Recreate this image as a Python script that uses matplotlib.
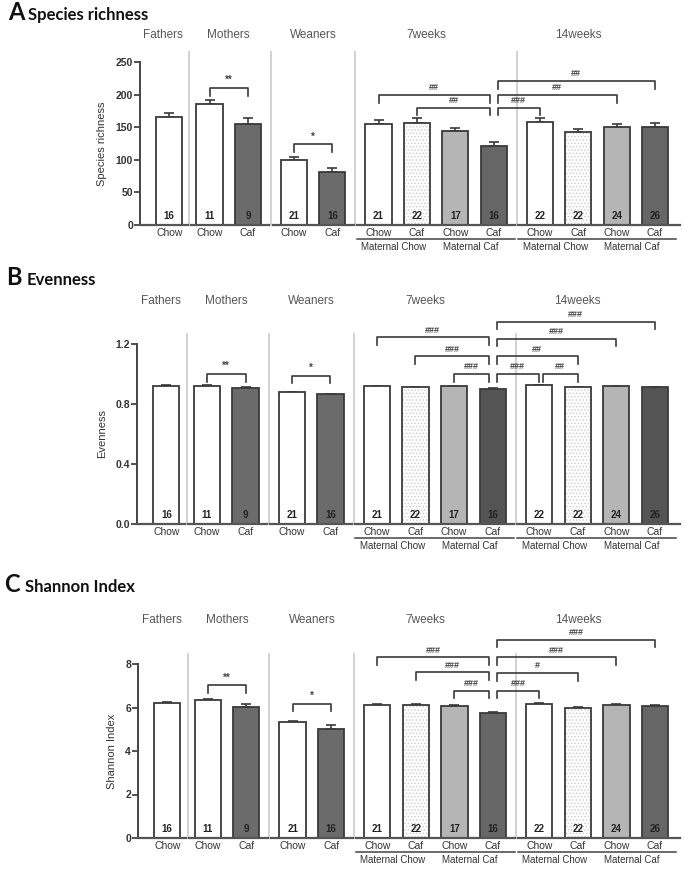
#alpha_diversity.py

import numpy as np
import matplotlib
matplotlib.use('Agg')
import matplotlib.pyplot as plt
from matplotlib import transforms

plt.rcParams['font.family'] = 'Liberation Sans'
plt.rcParams['hatch.linewidth'] = 0.7

# data
groups = ['Fathers', 'Mothers', 'Weaners', '7weeks', '14weeks']
group_sizes = [1, 2, 2, 4, 4]
diets = ['Chow', 'Chow', 'Caf', 'Chow', 'Caf', 'Chow', 'Caf', 'Chow', 'Caf',
         'Chow', 'Caf', 'Chow', 'Caf']
n_animals = [16, 11, 9, 21, 16, 21, 22, 17, 16, 22, 22, 24, 26]
maternal = ['Maternal Chow', 'Maternal Caf', 'Maternal Chow', 'Maternal Caf']

richness = [166, 185, 155, 99, 81, 155, 156, 144, 121, 158, 142, 150, 150]
richness_err = [6, 6, 9, 5, 7, 6, 8, 5, 7, 6, 5, 5, 7]
evenness = [0.922, 0.923, 0.907, 0.877, 0.864, 0.917, 0.913, 0.917, 0.900,
            0.924, 0.911, 0.917, 0.913]
evenness_err = [0.003, 0.003, 0.004, 0.003, 0.004, 0.003, 0.003, 0.003, 0.004,
                0.003, 0.003, 0.003, 0.003]
shannon = [6.21, 6.35, 6.02, 5.33, 5.03, 6.10, 6.10, 6.06, 5.73, 6.16, 5.98, 6.10, 6.06]
shannon_err = [0.05, 0.05, 0.13, 0.07, 0.15, 0.05, 0.06, 0.06, 0.07, 0.06, 0.06, 0.05, 0.05]

# significance brackets (bar i, bar j, height, label)
richness_sig = [(1, 2, 210, '**'), (3, 4, 124, '*'), (5, 8, 199, '##'), (6, 8, 180, '##'),
                (8, 9, 180, '###'), (8, 11, 199, '##'), (8, 12, 221, '##')]
evenness_sig = [(1, 2, 1.0, '**'), (3, 4, 0.99, '*'), (5, 8, 1.244, '###'), (6, 8, 1.117, '###'),
                (7, 8, 1.0, '###'), (8, 12, 1.35, '###'), (8, 11, 1.235, '###'),
                (8, 10, 1.117, '##'), (8, 9, 1.0, '###'), (9, 10, 1.0, '##')]
shannon_sig = [(1, 2, 7.02, '**'), (3, 4, 6.17, '*'), (5, 8, 8.3, '###'), (6, 8, 7.61, '###'),
               (7, 8, 6.77, '###'), (8, 12, 9.12, '###'), (8, 11, 8.3, '###'),
               (8, 10, 7.58, '#'), (8, 9, 6.77, '###')]

# layout
gaps = [0.05, 0.2, 0.2, 0.2]
xpos = []
start = 0.0
for g, size in enumerate(group_sizes):
    if g > 0:
        start += 1 + gaps[g - 1]
    for k in range(size):
        xpos.append(start + k)
    start += size - 1
xpos = np.array(xpos)
bounds = np.cumsum(group_sizes)
seps = [(xpos[b - 1] + xpos[b]) / 2 for b in bounds[:-1]]
XL = (-0.76, 13.3)

fills = ['white', 'white', '#6b6b6b', 'white', '#6b6b6b', 'white', 'white', '#b5b5b5',
         '#666666', 'white', 'white', '#b5b5b5', '#666666']
dotted = [6, 10]
edge = '#3a3a3a'

W, H = 685, 869
fig = plt.figure(figsize=(W / 100, H / 100), dpi=100)


def panel(box, vals, errs, sig, ymax, yticks, ylabels, ylabel, leg, head_px, darker=False):
    left, top, bottom = box
    ax = fig.add_axes([left / W, 1 - bottom / H, (680 - left) / W, (bottom - top) / H])
    ax_h = bottom - top
    cols = list(fills)
    if darker:
        cols[8] = cols[12] = '#545454'
    bars = ax.bar(xpos, vals, width=0.68, color=cols, edgecolor='none', zorder=2)
    for i in dotted:
        bars[i].set_hatch('.....')
        bars[i].set_edgecolor('#d0d0d0')
        bars[i].set_linewidth(0)
    ax.bar(xpos, vals, width=0.68, color='none', edgecolor=edge, linewidth=1.3, zorder=3)
    ax.errorbar(xpos, vals, yerr=[np.zeros(len(vals)), errs], fmt='none', ecolor=edge,
                elinewidth=1.2, capsize=3.5, capthick=1.2, zorder=1)
    for x, n in zip(xpos, n_animals):
        ax.annotate(str(n), (x, 0), xytext=(0, 3), textcoords='offset points', ha='center',
                    va='bottom', fontsize=7, fontweight='bold', color='#222', zorder=4)

    ax.set_xlim(*XL)
    ax.set_ylim(0, ymax)
    ax.set_yticks(yticks)
    ax.set_yticklabels(ylabels, fontsize=7.5, fontweight='bold', color='#333')
    ax.tick_params(axis='y', length=4, width=1.3, color='#444', pad=1)
    ax.set_xticks(xpos)
    ax.set_xticklabels(diets, fontsize=7.5, color='#333')
    ax.tick_params(axis='x', length=0, pad=2)
    for s in ['top', 'right', 'bottom']:
        ax.spines[s].set_visible(False)
    ax.spines['left'].set_linewidth(1.4)
    ax.spines['left'].set_color('#444')
    ax.set_ylabel(ylabel, fontsize=8, color='#333', labelpad=6)

    # broken x axis
    edges = [XL[0]] + seps + [XL[1]]
    for a, b in zip(edges[:-1], edges[1:]):
        ax.plot([a + (0.04 if a != XL[0] else 0), b - (0.04 if b != XL[1] else 0)], [0, 0],
                color='#555', lw=1.6, clip_on=False, zorder=5)
    # group separators
    ext = 1 + 10 / ax_h
    for s in seps:
        ax.plot([s, s], [0, ext], transform=transforms.blended_transform_factory(ax.transData, ax.transAxes),
                color='#cfcfcf', lw=1.3, clip_on=False, zorder=0)
    # group headers
    shifts = [-0.15, 0, 0, -0.25, -0.5]
    k = 0
    for g, size in enumerate(group_sizes):
        xc = xpos[k:k + size].mean() + shifts[g]
        k += size
        ax.annotate(groups[g], (xc, 1), xycoords=('data', 'axes fraction'),
                    xytext=(0, head_px * 0.72), textcoords='offset points',
                    ha='center', va='center', fontsize=8.5, color='#555')
    # maternal labels
    off = transforms.offset_copy(ax.transData, fig=fig, x=0, y=-14, units='dots')
    for a, b in [(seps[2] + 0.04, seps[3] - 0.04), (seps[3] + 0.04, XL[1] - 0.1)]:
        ax.plot([a, b], [0, 0], transform=off, color='#444', lw=1.1, clip_on=False)
    for m, (i, j) in zip(maternal, [(5, 6), (7, 8), (9, 10), (11, 12)]):
        ax.annotate(m, ((xpos[i] + xpos[j]) / 2 - 0.1, 0), xytext=(0, -12.5),
                    textcoords='offset points', ha='center', va='top', fontsize=7, color='#333',
                    annotation_clip=False)
    # brackets
    for i, j, y, lab in sig:
        x1 = xpos[i] + (0.1 if i >= 8 else 0)
        x2 = xpos[j] - (0.1 if j == 8 else 0)
        ax.plot([x1, x1, x2, x2], [y - leg, y, y, y - leg], color='#3a3a3a', lw=1.2,
                clip_on=False, zorder=5)
        ax.annotate(lab, ((x1 + x2) / 2, y), xytext=(0, 2), textcoords='offset points',
                    ha='center', va='bottom', fontsize=7 if '*' in lab else 6.5,
                    fontweight='bold', color='#444', annotation_clip=False)
    return ax


panel((140, 62, 225), richness, richness_err, richness_sig, 250, [0, 50, 100, 150, 200, 250],
      ['0', '50', '100', '150', '200', '250'], 'Species richness', 12, 27)
panel((137, 344, 524), evenness, evenness_err, evenness_sig, 1.2, [0, 0.4, 0.8, 1.2],
      ['0.0', '0.4', '0.8', '1.2'], 'Evenness', 0.05, 43, darker=True)
panel((138, 664, 838), shannon, shannon_err, shannon_sig, 8, [0, 2, 4, 6, 8],
      ['0', '2', '4', '6', '8'], 'Shannon Index', 0.35, 44)

# panel titles
for letter, title, yb, xl, xt in [('A', 'Species richness', 20, 8, 28),
                                  ('B', 'Evenness', 285, 6, 27),
                                  ('C', 'Shannon Index', 592, 4, 25)]:
    fig.text(xl / W, 1 - yb / H, letter, fontsize=17, fontweight='bold', family='Lato',
             va='baseline', color='#111')
    fig.text(xt / W, 1 - yb / H, title, fontsize=12, fontweight='bold', family='Lato',
             va='baseline', color='#111')

fig.savefig('out.png', dpi=100)
